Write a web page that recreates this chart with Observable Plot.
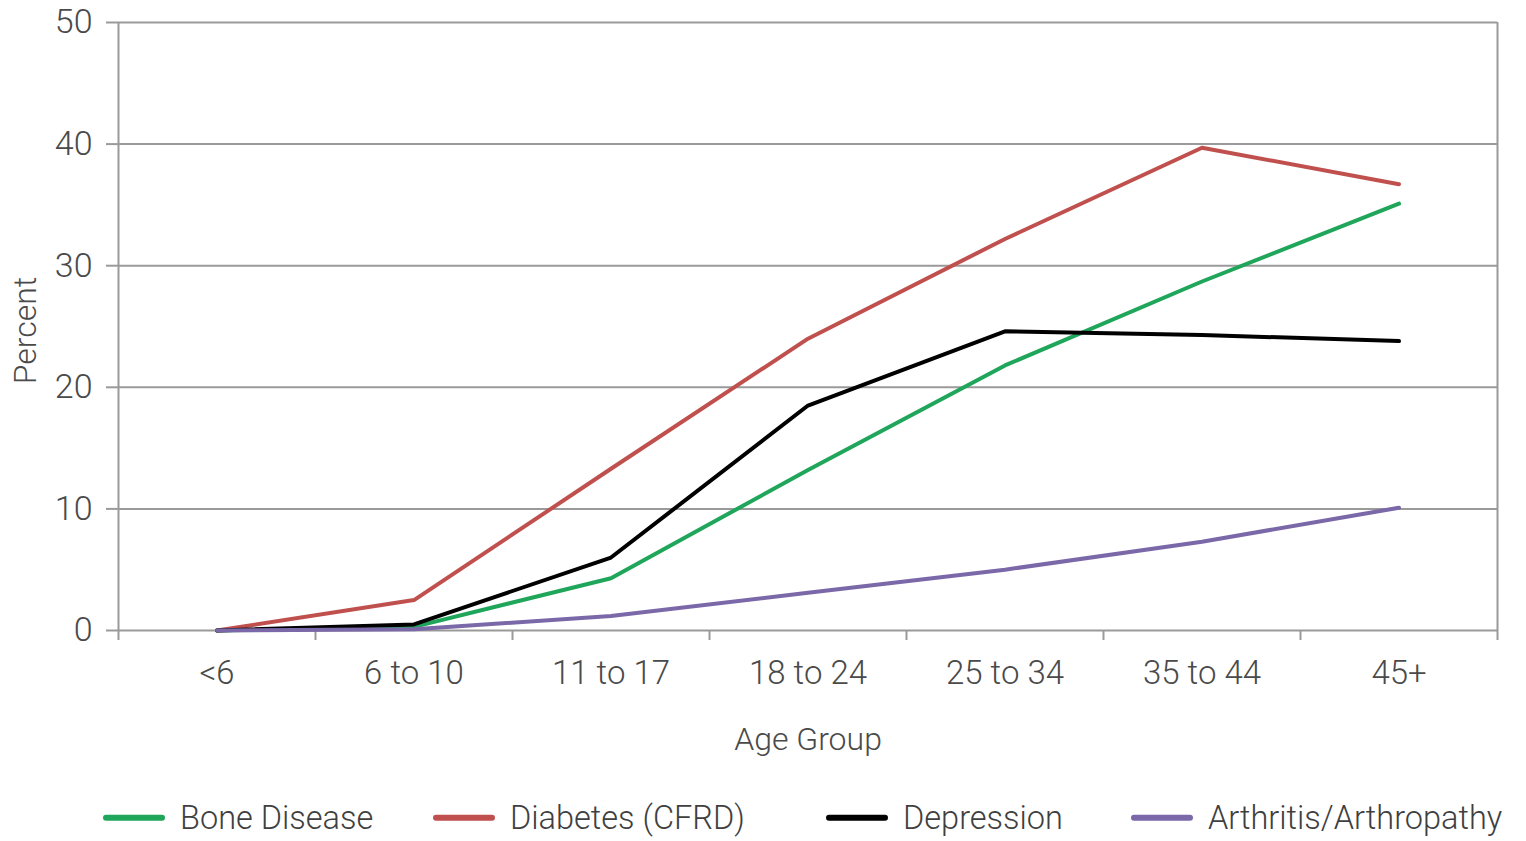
<!DOCTYPE html>
<html>
<head>
<meta charset="utf-8">
<script src="https://cdn.jsdelivr.net/npm/d3@7"></script>
<script src="https://cdn.jsdelivr.net/npm/@observablehq/plot@0.6"></script>
<style>
  html, body { margin: 0; padding: 0; background: #fff; }
  #wrap { width: 1526px; height: 841px; position: relative; overflow: hidden; font-family: Roboto, "Noto Sans", sans-serif; }
  #legend { position: relative; height: 71px; width: 1526px; }
  .item { position: absolute; top: 48px; transform: translateY(-50%); display: flex; align-items: center; }
  .sw { width: 62px; height: 6px; border-radius: 3px; margin-right: 15px; }
  .lab { font-size: 32.5px; font-weight: 300; color: #3f3f3f; white-space: nowrap; line-height: 1; }
</style>
</head>
<body>
<div id="wrap"></div>
<script>
const ages = ["<6", "6 to 10", "11 to 17", "18 to 24", "25 to 34", "35 to 44", "45+"];
const boneDisease = [0, 0.3, 4.3, 13.2, 21.8, 28.7, 35.1];
const diabetes    = [0, 2.5, 13.3, 24.0, 32.2, 39.7, 36.7];
const depression  = [0, 0.5, 6.0, 18.5, 24.6, 24.3, 23.8];
const arthritis   = [0, 0.1, 1.2, 3.1, 5.0, 7.3, 10.1];
const seriesNames  = ["Bone Disease", "Diabetes (CFRD)", "Depression", "Arthritis/Arthropathy"];
const seriesColors = ["#1fa65a", "#c0504d", "#000000", "#7b68a8"];
const yTicks = [0, 10, 20, 30, 40, 50];
const yLabel = "Percent";
const xLabel = "Age Group";

const seriesValues = [boneDisease, diabetes, depression, arthritis];
const rows = seriesNames.flatMap((name, s) =>
  seriesValues[s].map((v, i) => ({series: name, pos: i + 0.5, value: v}))
);
const boundaries = d3.range(ages.length + 1);
const centers = ages.map((_, i) => i + 0.5);

const gridColor = "#9a9a9a";
const textColor = "#4a4a4a";

const chart = Plot.plot({
  width: 1526,
  height: 770,
  marginLeft: 118,
  marginRight: 29,
  marginTop: 22,
  marginBottom: 140,
  style: {fontFamily: "Roboto, 'Noto Sans', sans-serif", fontWeight: 300, color: textColor, background: "#fff"},
  x: {type: "linear", domain: [0, ages.length]},
  y: {domain: [0, 50]},
  color: {domain: seriesNames, range: seriesColors},
  marks: [
    Plot.gridY(yTicks, {stroke: gridColor, strokeOpacity: 1, strokeWidth: 2}),
    Plot.ruleX([0, ages.length], {stroke: gridColor, strokeWidth: 2}),
    Plot.axisY(yTicks, {tickSize: 12, tickPadding: 14, fontSize: 34, label: null, stroke: gridColor, strokeWidth: 2, fill: textColor}),
    Plot.axisX(boundaries, {tickSize: 10, tickFormat: () => "", label: null, stroke: gridColor, strokeWidth: 2}),
    Plot.axisX(centers, {tickSize: 0, tickPadding: 30, fontSize: 33, label: null, fill: textColor, tickFormat: d => ages[Math.floor(d)]}),
    Plot.line(rows, {x: "pos", y: "value", z: "series", stroke: "series", strokeWidth: 4, strokeLinejoin: "round", strokeLinecap: "round"}),
    Plot.text([yLabel], {text: d => d, frameAnchor: "left", textAnchor: "middle", rotate: -90, dx: -93, dy: 4, fontSize: 32, fill: textColor}),
    Plot.text([xLabel], {text: d => d, frameAnchor: "bottom", dy: 119, fontSize: 32, fill: textColor})
  ]
});

const wrap = document.getElementById("wrap");
wrap.appendChild(chart);

const legend = document.createElement("div");
legend.id = "legend";
const legendLefts = [103, 433, 826, 1131];
seriesNames.forEach((name, i) => {
  const it = document.createElement("div");
  it.className = "item";
  it.style.left = legendLefts[i] + "px";
  const sw = document.createElement("div");
  sw.className = "sw";
  sw.style.background = seriesColors[i];
  const lab = document.createElement("span");
  lab.className = "lab";
  lab.textContent = name;
  it.appendChild(sw);
  it.appendChild(lab);
  legend.appendChild(it);
});
wrap.appendChild(legend);
</script>
</body>
</html>
